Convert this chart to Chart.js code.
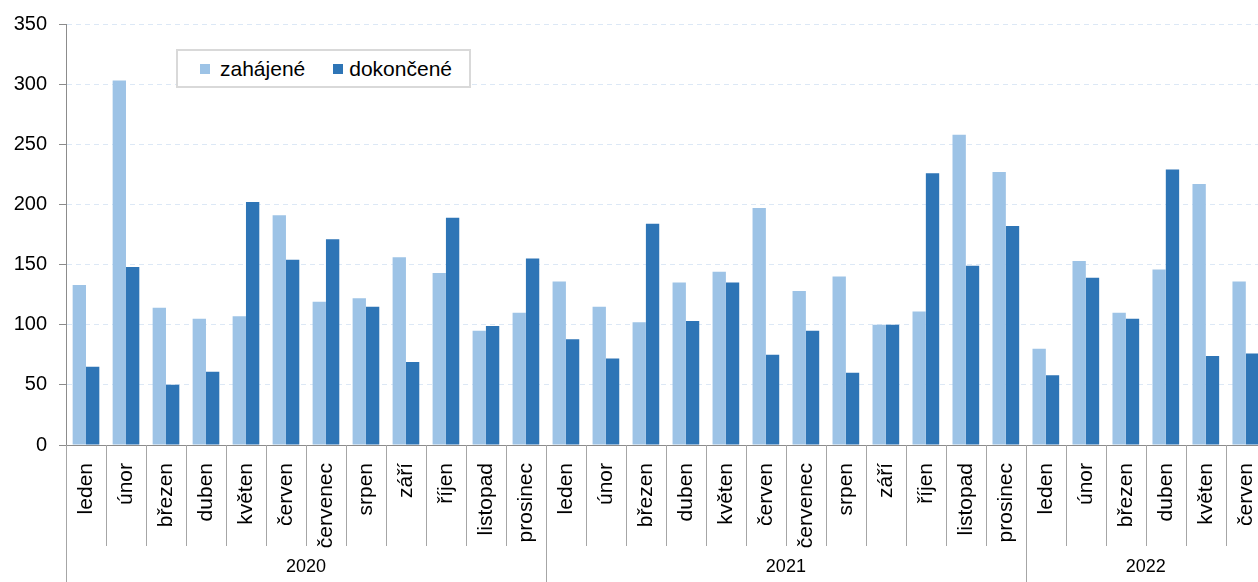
<!DOCTYPE html>
<html lang="cs">
<head>
<meta charset="utf-8">
<script src="https://cdn.jsdelivr.net/npm/chart.js@4/dist/chart.umd.min.js"></script>
<style>
  html, body { margin: 0; padding: 0; background: #fff; overflow: hidden; }
  #wrap { position: relative; width: 1281px; height: 582px; }
  #legend {
    position: absolute; left: 176px; top: 49px; width: 291px; height: 35px;
    border: 2px solid #d9d9d9; background: #fff;
    font-family: "Liberation Sans", Arial, sans-serif; font-size: 21px; color: #000;
    display: flex; align-items: center;
  }
  #legend .item { display: flex; align-items: center; }
  #legend .sw { width: 10px; height: 10px; display: inline-block; }
</style>
</head>
<body>
<div id="wrap">
  <canvas id="chart"></canvas>
  <div id="legend"></div>
</div>
<script>
const months = ['leden', 'únor', 'březen', 'duben', 'květen', 'červen', 'červenec', 'srpen', 'září', 'říjen', 'listopad', 'prosinec',
  'leden', 'únor', 'březen', 'duben', 'květen', 'červen', 'červenec', 'srpen', 'září', 'říjen', 'listopad', 'prosinec',
  'leden', 'únor', 'březen', 'duben', 'květen', 'červen'];
const years = ['2020', '2021', '2022'];
const yearLengths = [12, 12, 6];
const zahajene = [133, 303, 114, 105, 107, 191, 119, 122, 156, 143, 95, 110,
  136, 115, 102, 135, 144, 197, 128, 140, 100, 111, 258, 227,
  80, 153, 110, 146, 217, 136];
const dokoncene = [65, 148, 50, 61, 202, 154, 171, 115, 69, 189, 99, 155,
  88, 72, 184, 103, 135, 75, 95, 60, 100, 226, 149, 182,
  58, 139, 105, 229, 74, 76];
const seriesNames = ['zahájené', 'dokončené'];
const seriesColors = ['#9dc3e6', '#2e75b6'];

const FONT = '"Liberation Sans", Arial, sans-serif';
const AXIS = '#8c8c8c';

// separators between months / years and the year row under the month labels
const yearAxisPlugin = {
  id: 'yearAxis',
  afterDraw(chart) {
    const ctx = chart.ctx;
    const x = chart.scales.x;
    const area = chart.chartArea;
    const half = (x.getPixelForValue(1) - x.getPixelForValue(0)) / 2;
    const monthBottom = area.bottom + 101;
    const bottom = chart.height;

    ctx.save();
    ctx.strokeStyle = '#a6a6a6';
    ctx.lineWidth = 1;
    const yearStarts = [];
    let s = 0;
    yearLengths.forEach(n => { yearStarts.push(s); s += n; });

    for (let i = 0; i <= months.length; i++) {
      const px = Math.round(x.getPixelForValue(i) - half) + 0.5;
      const isYear = yearStarts.includes(i);
      ctx.beginPath();
      ctx.moveTo(px, area.bottom);
      ctx.lineTo(px, isYear ? bottom : monthBottom);
      ctx.stroke();
    }

    ctx.fillStyle = '#000';
    ctx.font = '18px ' + FONT;
    ctx.textAlign = 'center';
    ctx.textBaseline = 'middle';
    years.forEach((yr, k) => {
      const a = x.getPixelForValue(yearStarts[k]) - half;
      const b = x.getPixelForValue(yearStarts[k] + yearLengths[k] - 1) + half;
      ctx.fillText(yr, (a + b) / 2, 567);
    });
    ctx.restore();
  }
};

const legendEl = document.getElementById('legend');
const legendGaps = [[22, 10], [28, 6]];
legendEl.innerHTML = seriesNames.map((n, i) =>
  '<span class="item" style="margin-left:' + legendGaps[i][0] + 'px"><span class="sw" style="background:' +
  seriesColors[i] + ';margin-right:' + legendGaps[i][1] + 'px"></span>' + n + '</span>').join('');

const canvas = document.getElementById('chart');
new Chart(canvas, {
  type: 'bar',
  data: {
    labels: months,
    datasets: [
      { label: seriesNames[0], data: zahajene, backgroundColor: seriesColors[0],
        categoryPercentage: 0.667, barPercentage: 1 },
      { label: seriesNames[1], data: dokoncene, backgroundColor: seriesColors[1],
        categoryPercentage: 0.667, barPercentage: 1 }
    ]
  },
  options: {
    responsive: true,
    maintainAspectRatio: false,
    animation: false,
    layout: { padding: { top: 22, left: 0, right: 0, bottom: 0 } },
    plugins: {
      legend: { display: false },
      tooltip: { enabled: false }
    },
    scales: {
      x: {
        grid: { display: false },
        border: { display: true, color: AXIS, width: 1 },
        ticks: {
          autoSkip: false,
          minRotation: 90,
          maxRotation: 90,
          padding: 10,
          color: '#000',
          font: { family: FONT, size: 21 }
        },
        afterFit(scale) { scale.height = 137; }
      },
      y: {
        min: 0,
        max: 350,
        grid: {
          color: '#dce8f6',
          lineWidth: 1,
          tickColor: AXIS,
          tickLength: 7
        },
        border: { display: true, color: AXIS, width: 1, dash: [5, 4] },
        ticks: {
          stepSize: 50,
          padding: 12,
          color: '#000',
          font: { family: FONT, size: 20 }
        },
        afterFit(scale) { scale.width = 66; }
      }
    }
  },
  plugins: [yearAxisPlugin]
});
</script>
</body>
</html>
